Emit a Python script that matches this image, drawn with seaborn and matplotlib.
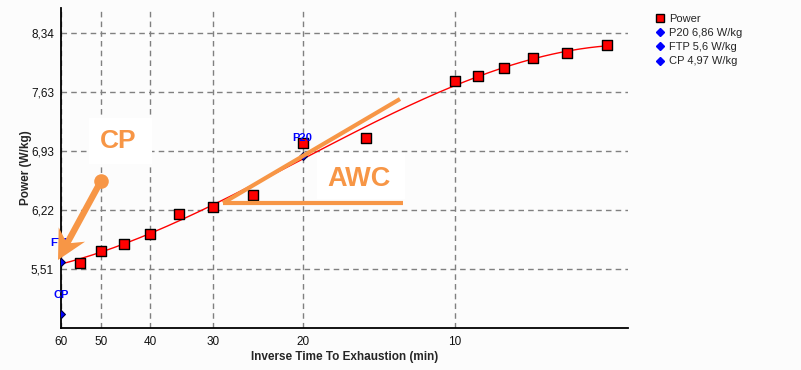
import numpy as np
import pandas as pd
import matplotlib
matplotlib.use("Agg")
import matplotlib.pyplot as plt
import seaborn as sns
from matplotlib.patches import Polygon, Rectangle
from matplotlib.lines import Line2D

# ---- data ----
time_min = [55, 50, 45, 40, 35, 30, 25, 20, 15, 10, 9, 8, 7, 6, 5]
power_wkg = [5.58, 5.73, 5.81, 5.93, 6.17, 6.25, 6.40, 7.02, 7.08, 7.76, 7.82, 7.92, 8.04, 8.10, 8.19]
marker_names = ["P20", "FTP", "CP"]
marker_time = [20, 60, 60]
marker_power = [6.86, 5.6, 4.97]
legend_labels = ["Power", "P20 6,86 W/kg", "FTP 5,6 W/kg", "CP 4,97 W/kg"]
x_ticks = [60, 50, 40, 30, 20, 10]
y_ticks = [5.508, 6.217, 6.925, 7.633, 8.342]
y_tick_labels = ["5,51", "6,22", "6,93", "7,63", "8,34"]

sns.set_theme(style="white")
plt.rcParams["font.family"] = ["Liberation Sans", "DejaVu Sans"]

W, H = 801, 370
BG = "#fcfcfc"
ORANGE = "#f79646"
fig = plt.figure(figsize=(W / 100, H / 100), dpi=100, facecolor=BG)
ax = fig.add_axes([61 / W, 1 - 328 / H, 567 / W, 320 / H])
ax.set_facecolor(BG)


def fp(x, y):
    return (x / W, 1 - y / H)


# fitted curve (cubic in log-time through the measured points + FTP)
fit_t = np.array([marker_time[1]] + time_min, dtype=float)
fit_p = np.array([marker_power[1]] + power_wkg, dtype=float)
coef = np.polyfit(np.log(fit_t), fit_p, 3)
t_grid = np.geomspace(fit_t.max(), fit_t.min(), 300)
curve = pd.DataFrame({"t": t_grid, "p": np.polyval(coef, np.log(t_grid))})
sns.lineplot(data=curve, x="t", y="p", ax=ax, color="red", lw=1.0, zorder=3)

df = pd.DataFrame({"t": time_min, "p": power_wkg})
sns.scatterplot(data=df, x="t", y="p", ax=ax, marker="s", s=44, color="red",
                edgecolor="black", linewidth=1.0, zorder=4)

mk = pd.DataFrame({"t": marker_time, "p": marker_power, "n": marker_names})
sns.scatterplot(data=mk, x="t", y="p", ax=ax, marker="D", s=16, color="blue",
                edgecolor="#000040", linewidth=0.8, zorder=5)
for n, t, p in zip(marker_names, marker_time, marker_power):
    ax.annotate(n, (t, p), xytext=(0, 10), textcoords="offset points",
                ha="center", va="bottom", color="blue", fontsize=8,
                fontweight="bold", annotation_clip=False, zorder=6)

ax.set_xscale("log")
ax.set_xlim(60, 4.55)
ax.set_ylim(4.805, 8.638)
ax.set_xticks(x_ticks)
ax.set_xticklabels([str(v) for v in x_ticks])
ax.xaxis.set_minor_locator(matplotlib.ticker.NullLocator())
ax.set_yticks(y_ticks)
ax.set_yticklabels(y_tick_labels)
ax.tick_params(axis="both", length=0, labelsize=8.5, colors="#111111")
ax.tick_params(axis="y", pad=5)
ax.tick_params(axis="x", pad=6)
ax.grid(True, color="#808080", linestyle=(0, (4, 3)), lw=1)
for s in ["top", "right"]:
    ax.spines[s].set_visible(False)
for s in ["left", "bottom"]:
    ax.spines[s].set_color("black")
    ax.spines[s].set_linewidth(1.3)
ax.set_xlabel("Inverse Time To Exhaustion (min)", fontsize=8.5, fontweight="bold")
ax.set_ylabel("Power (W/kg)", fontsize=8.5, fontweight="bold")
ax.yaxis.set_label_coords((31.5 - 61) / 567, 0.5)
ax.xaxis.set_label_coords(0.5, (328 - 351) / 320)

# legend
handles = [
    Line2D([], [], ls="", marker="s", ms=6, mfc="red", mec="black", mew=1.0),
    Line2D([], [], ls="", marker="D", ms=4.5, mfc="blue", mec="blue"),
    Line2D([], [], ls="", marker="D", ms=4.5, mfc="blue", mec="blue"),
    Line2D([], [], ls="", marker="D", ms=4.5, mfc="blue", mec="blue"),
]
fig.legend(handles, legend_labels, loc="upper left", bbox_to_anchor=fp(648, 6),
           frameon=False, fontsize=8, handlelength=0.8, handletextpad=0.4,
           labelspacing=0.38, borderpad=0.2)

# ---- orange annotations ----
fig.add_artist(Rectangle(fp(89, 164), 63 / W, 46 / H, transform=fig.transFigure,
                         facecolor="white", edgecolor="none", zorder=7))
fig.text(*fp(118, 141), "CP", color=ORANGE, fontsize=19, fontweight="bold",
         ha="center", va="center", zorder=8)
fig.add_artist(Rectangle(fp(317, 199), 88 / W, 46 / H, transform=fig.transFigure,
                         facecolor="white", edgecolor="none", zorder=7))
fig.text(*fp(359, 179), "AWC", color=ORANGE, fontsize=19.5, fontweight="bold",
         ha="center", va="center", zorder=8)

for (x0, y0), (x1, y1) in [((223, 203), (400, 99)), ((223, 203), (403, 203))]:
    a, b = fp(x0, y0), fp(x1, y1)
    fig.add_artist(Line2D([a[0], b[0]], [a[1], b[1]], transform=fig.transFigure,
                          color=ORANGE, lw=3, solid_capstyle="butt", zorder=9))

# CP arrow: dot + shaft + notched head, built in pixel space
p0 = np.array([101.0, 181.0])
tip = np.array([58.0, 260.0])
d = (tip - p0) / np.linalg.norm(tip - p0)
nrm = np.array([-d[1], d[0]])
head_len, notch, head_half, shaft_half = 29.0, 8.0, 15.0, 3.2
corner = tip - d * head_len
join = tip - d * (head_len - notch)
pts = [p0 + nrm * shaft_half, join + nrm * shaft_half, corner + nrm * head_half, tip,
       corner - nrm * head_half, join - nrm * shaft_half, p0 - nrm * shaft_half]
fig.add_artist(Polygon([fp(*q) for q in pts], closed=True, transform=fig.transFigure,
                       facecolor=ORANGE, edgecolor="none", zorder=9))
fig.add_artist(Line2D([fp(*p0)[0]], [fp(*p0)[1]], transform=fig.transFigure, marker="o",
                      ms=10.5, mfc=ORANGE, mec="none", ls="", zorder=9))

fig.savefig("out.png", dpi=100, facecolor=BG)
